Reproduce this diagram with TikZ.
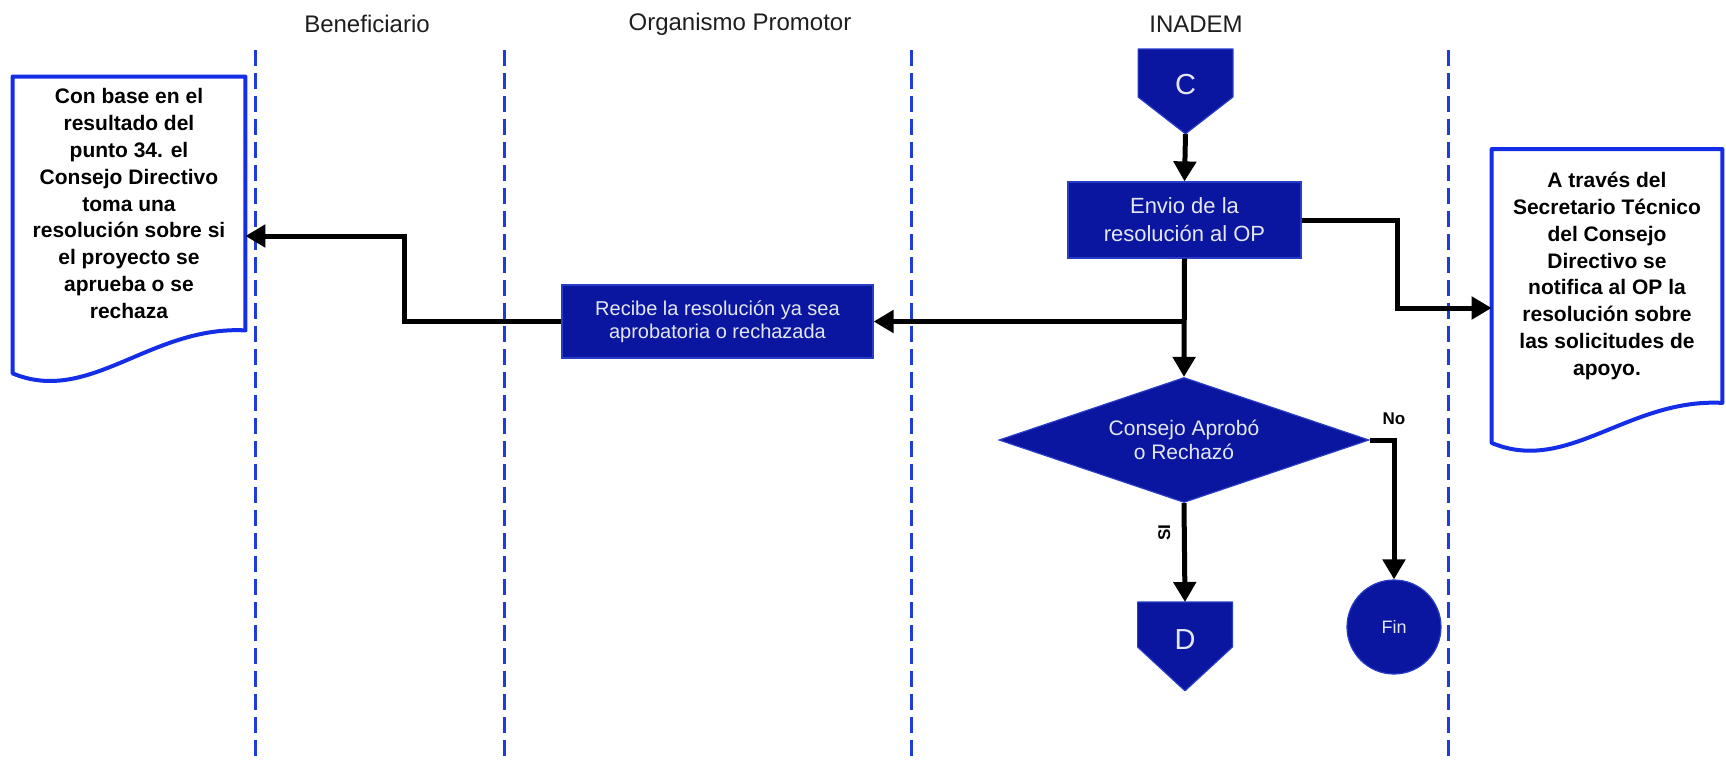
\documentclass[tikz,border=0pt]{standalone}
\usepackage{fontspec}
\setmainfont{Liberation Sans}
\usepackage{tikz}
\usetikzlibrary{arrows.meta,shapes.geometric,calc,backgrounds}

\definecolor{boxfill}{RGB}{10,22,160}
\definecolor{boxedge}{RGB}{40,60,200}
\definecolor{boxtext}{RGB}{228,230,242}
\definecolor{docblue}{RGB}{20,45,230}
\definecolor{lanecol}{RGB}{30,60,220}
\definecolor{headtext}{RGB}{30,30,30}

\begin{document}
\begin{tikzpicture}[x=0.5pt, y=0.5pt, >={Triangle[length=10pt,width=11pt]},
    lanehead/.style={font=\fontsize{12}{14}\selectfont, text=headtext},
    lanesep/.style={draw=lanecol, line width=1.5pt, dash pattern=on 8pt off 3.5pt},
    procbox/.style={rectangle, fill=boxfill, draw=boxedge, line width=0.6pt, text=boxtext, align=center, inner sep=0pt},
    connbox/.style={rectangle, text=boxtext, minimum width=47pt, inner sep=0pt, anchor=north, text depth=7pt, font=\fontsize{14.5}{17}\selectfont},
    connfill/.style={fill=boxfill, draw=boxedge, line width=0.6pt, line join=round},
    docbox/.style={rectangle, inner sep=0pt, align=center, minimum width=116pt, minimum height=126.5pt, font=\bfseries\fontsize{10.5}{13.4}\selectfont},
    docline/.style={draw=docblue, line width=2pt, line join=round},
    flow/.style={->, line width=2.5pt},
    branchlbl/.style={font=\bfseries\fontsize{8.5}{10}\selectfont}]
    \useasboundingbox (0,0) rectangle (1726,-760);

    % Swimlanes
    \foreach \x in {255,504,911,1448}
        \draw[lanesep] (\x,-50) -- (\x,-760);
    \node (hBen) at (367,-24) [lanehead] {Beneficiario};
    \node (hOrg) at (740,-24) [lanehead] {Organismo Promotor};
    \node (hIna) at (1196,-24) [lanehead] {INADEM};

    % Documents
    \node (docBen) at (129,-203.5) [docbox] {Con base en el\\resultado del\\punto 34. el\\Consejo Directivo\\toma una\\resolución sobre si\\el proyecto se\\aprueba o se\\rechaza};
    \draw[docline] ($(docBen.south west)+(0,-43)$) -- (docBen.north west) -- (docBen.north east) -- (docBen.south east)
        .. controls +(-95,5) and +(77,-32) .. ($(docBen.south west)+(0,-43)$) -- cycle;
    \node (docIna) at (1607,-276) [docbox, minimum width=115pt] {A través del\\Secretario Técnico\\del Consejo\\Directivo se\\notifica al OP la\\resolución sobre\\las solicitudes de\\apoyo.};
    \draw[docline] ($(docIna.south west)+(0,-40)$) -- (docIna.north west) -- (docIna.north east) -- (docIna.south east)
        .. controls +(-94,5) and +(76,-32) .. ($(docIna.south west)+(0,-40)$) -- cycle;

    % Off-page connectors
    \node (conC) at (1185.5,-49) [connbox, minimum height=42pt] {C};
    \node (conD) at (1185,-602) [connbox, minimum height=44pt] {D};
    \begin{scope}[on background layer]
        \path[connfill] (conC.north west) -- (conC.north east) -- ++(0,-48) -- (conC.south) -- ($(conC.north west)+(0,-48)$) -- cycle;
        \path[connfill] (conD.north west) -- (conD.north east) -- ++(0,-45) -- (conD.south) -- ($(conD.north west)+(0,-45)$) -- cycle;
    \end{scope}

    % Process
    \node (envio) at (1184.5,-220) [procbox, minimum width=116.5pt, minimum height=38pt, font=\fontsize{11}{14}\selectfont] {Envio de la\\resolución al OP};
    \node (recibe) at (717.5,-321.5) [procbox, minimum width=155.5pt, minimum height=36.5pt, font=\fontsize{10}{11.5}\selectfont] {Recibe la resolución ya sea\\aprobatoria o rechazada};
    \node (decision) at (1184,-440) [procbox, diamond, aspect=2.96, minimum width=185pt, minimum height=62.5pt, font=\fontsize{10.5}{12}\selectfont] {Consejo Aprobó\\o Rechazó};
    \node (fin) at (1394,-627) [procbox, circle, minimum size=47pt, font=\fontsize{9}{10}\selectfont] {Fin};

    % Flow
    \draw[flow] (conC.south) -- (envio.north);
    \draw[flow] (envio.south) -- (decision.north);
    \draw[flow] (envio.south |- recibe.east) -- (recibe.east);
    \draw[flow] (recibe.west) -- ++(-157,0) |- ([yshift=-16.25pt]docBen.east);
    \draw[flow] (envio.east) -- ++(96,0) |- ([yshift=-16pt]docIna.west);
    \draw[flow] (decision.south) -- node[pos=0.3, xshift=-10pt, rotate=90, branchlbl] (lblSi) {SI} (conD.north);
    \draw[flow] (decision.east) -| node[pos=0.5, above=3pt, branchlbl] (lblNo) {No} (fin.north);
\end{tikzpicture}
\end{document}
